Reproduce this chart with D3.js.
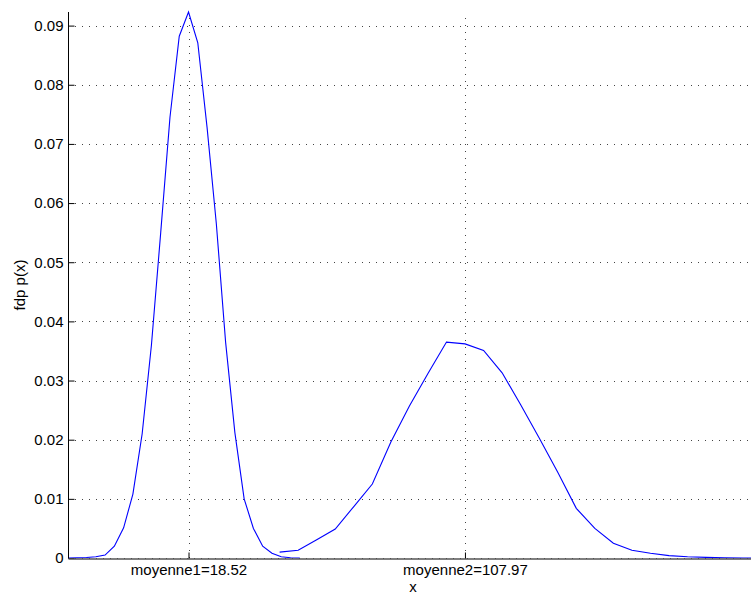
<!DOCTYPE html>
<html>
<head>
<meta charset="utf-8">
<script src="https://cdn.jsdelivr.net/npm/d3@7"></script>
<style>
  body { margin: 0; background: #fff; }
  text { font-family: "Liberation Sans", Arial, Helvetica, sans-serif; font-size: 15px; fill: #000; }
</style>
</head>
<body>
<svg id="fdp" width="751" height="596"></svg>
<script>
// first mode (x, p(x))
const x1 = [-20.48, -17.48, -14.48, -11.48, -8.48, -5.48, -2.48, 0.52, 3.52, 6.52, 9.52, 12.52, 15.52,
            18.52, 21.52, 24.52, 27.52, 30.52, 33.52, 36.52, 39.52, 42.52, 45.52, 48.52, 51.52, 54.52];
const p1 = [0.00001, 0.00003, 0.00008, 0.0002, 0.0005, 0.0020, 0.0051, 0.0108, 0.0210, 0.0360, 0.0550, 0.0745, 0.0882,
            0.0923, 0.0871, 0.0728, 0.0565, 0.0365, 0.0212, 0.0100, 0.0050, 0.0020, 0.0008, 0.0002, 0.00005, 0.0];

// second mode
const x2 = [48, 54, 60, 66, 72, 78, 84, 90, 96, 102, 108, 114, 120, 126, 132, 138, 144, 150, 156, 162,
            168, 174, 180, 186, 192, 198, 204];
const p2 = [0.0010, 0.0013, 0.0031, 0.0049, 0.0087, 0.0125, 0.0196, 0.0257, 0.0312, 0.0365, 0.0362, 0.0351, 0.0313,
            0.0259, 0.0203, 0.0145, 0.0084, 0.0050, 0.0025, 0.0013, 0.0008, 0.0004, 0.0002, 0.0001, 0.00004, 0.00001, 0.0];

const means = [18.52, 107.97];
const meanLabels = ["moyenne1=18.52", "moyenne2=107.97"];
const yTicks = [0, 0.01, 0.02, 0.03, 0.04, 0.05, 0.06, 0.07, 0.08, 0.09];
const xDomain = [-20.48, 202.8];

let svg = d3.select("svg#fdp");
let margin = { top: 12, left: 68, bottom: 38 };
let plotRight = 758; // axes run slightly past the visible window
let plotBottom = +svg.attr("height") - margin.bottom;

const xScale = d3.scaleLinear().domain(xDomain).range([margin.left, plotRight]);
const yMax = d3.max(p1.concat(p2));
const yScale = d3.scaleLinear().domain([0, yMax]).range([plotBottom, margin.top]);

svg.append("clipPath").attr("id", "plotclip")
   .append("rect")
   .attr("x", margin.left).attr("y", margin.top - 2)
   .attr("width", plotRight - margin.left).attr("height", plotBottom - margin.top + 4);

// dotted grid
let grid = svg.append("g").attr("class", "grid")
              .attr("stroke", "#444").attr("stroke-width", 1).attr("stroke-dasharray", "1,6");
yTicks.forEach(t => {
  grid.append("line")
      .attr("x1", margin.left).attr("x2", plotRight)
      .attr("y1", Math.round(yScale(t)) + 0.5).attr("y2", Math.round(yScale(t)) + 0.5);
});
means.forEach(m => {
  grid.append("line")
      .attr("x1", Math.round(xScale(m)) + 0.5).attr("x2", Math.round(xScale(m)) + 0.5)
      .attr("y1", plotBottom).attr("y2", margin.top);
});

// curves
let line = d3.line().x(d => xScale(d[0])).y(d => yScale(d[1]));
let curves = svg.append("g").attr("clip-path", "url(#plotclip)");
[[x1, p1], [x2, p2]].forEach(([xs, ps]) => {
  curves.append("path")
      .datum(xs.map((x, i) => [x, ps[i]]))
      .attr("fill", "none")
      .attr("stroke", "#0000ff")
      .attr("stroke-width", 1.1)
      .attr("d", line);
});

// left axis
let leftAxis = d3.axisLeft(yScale).tickValues(yTicks).tickSize(-6).tickSizeOuter(0).tickPadding(5)
                 .tickFormat(d => d === 0 ? "0" : d3.format(".2f")(d));
let yAxisG = svg.append("g")
    .attr("transform", "translate(" + (margin.left + 0.5) + ",0)")
    .call(leftAxis);
yAxisG.select(".domain").attr("d", "M0," + margin.top + "V" + plotBottom).attr("stroke", "#000");
yAxisG.selectAll(".tick line").attr("stroke", "#000");

// bottom axis
let bottomAxis = d3.axisBottom(xScale).tickValues(means).tickSize(-6).tickSizeOuter(0).tickPadding(6)
                   .tickFormat((d, i) => meanLabels[i]);
let xAxisG = svg.append("g")
    .attr("transform", "translate(0," + (plotBottom + 0.5) + ")")
    .call(bottomAxis);
xAxisG.select(".domain").attr("stroke", "#555").attr("stroke-width", 1.6);
xAxisG.selectAll(".tick line").attr("stroke", "#000");

// axis titles
svg.append("text")
   .attr("x", (margin.left + plotRight) / 2).attr("y", 592)
   .attr("text-anchor", "middle")
   .text("x");
svg.append("text")
   .attr("transform", "translate(25," + ((margin.top + plotBottom) / 2) + ") rotate(-90)")
   .attr("text-anchor", "middle")
   .text("fdp p(x)");
</script>
</body>
</html>
